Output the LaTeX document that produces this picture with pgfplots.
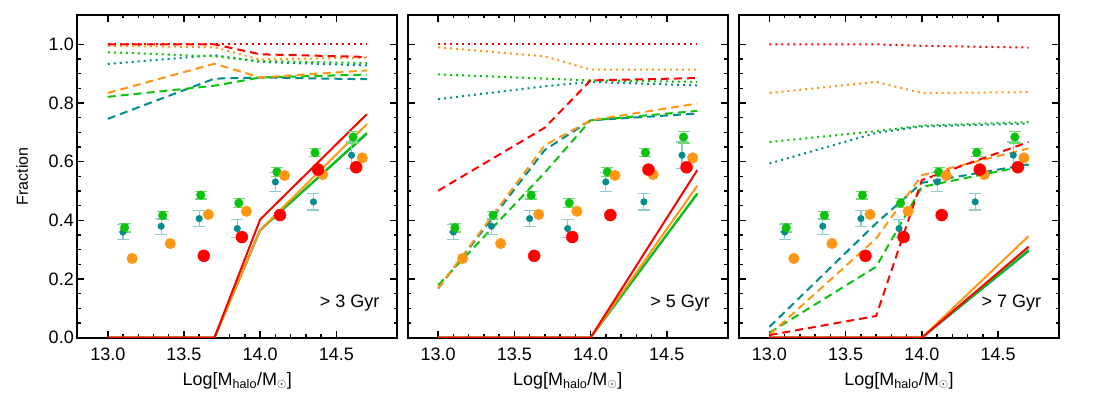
\documentclass[border=0pt]{standalone}
\usepackage{fontspec}
\setmainfont{Liberation Sans}
\usepackage{pgfplots}
\pgfplotsset{compat=1.18}
\usepackage{pgfplotstable}

\definecolor{cR}{RGB}{255,0,0}
\definecolor{cO}{RGB}{255,150,20}
\definecolor{cG}{RGB}{10,195,10}
\definecolor{cT}{RGB}{0,140,140}
\definecolor{cTe}{RGB}{140,205,205}
\definecolor{cGe}{RGB}{110,220,110}

% observed points (same in every panel)
\pgfplotstableread{
x     y     e
13.10 0.360 0.025
13.35 0.380 0.027
13.60 0.406 0.027
13.85 0.372 0.030
14.10 0.531 0.032
14.35 0.463 0.028
14.60 0.622 0.045
}\obsT
\pgfplotstableread{
x     y     e
13.11 0.375 0.015
13.36 0.417 0.014
13.61 0.486 0.013
13.86 0.459 0.015
14.11 0.565 0.015
14.36 0.631 0.014
14.61 0.684 0.020
}\obsG
\pgfplotstableread{
x     y
13.16 0.270
13.41 0.321
13.66 0.420
13.91 0.431
14.16 0.553
14.41 0.556
14.67 0.613
}\obsO
\pgfplotstableread{
x     y
13.63 0.279
13.88 0.343
14.13 0.418
14.38 0.573
14.63 0.581
}\obsR

% model lines: s = solid, d = dashed, o = dotted
\pgfplotstableread{
x    sR    sO    sG    sT    dR    dO    dG    dT    oR    oO    oG    oT
13.0 0.000 0.000 0.000 0.000 1.000 0.834 0.821 0.746 1.000 0.995 0.973 0.933
13.7 0.000 0.000 0.000 0.000 1.000 0.934 0.859 0.883 1.000 0.990 0.959 0.963
14.0 0.403 0.367 0.367 0.367 0.966 0.887 0.887 0.887 1.000 0.948 0.943 0.940
14.7 0.762 0.728 0.698 0.695 0.957 0.911 0.897 0.881 1.000 0.955 0.936 0.928
}\linesA
\pgfplotstableread{
x    sR    sO    sG    sT    dR    dO    dG    dT    oR    oO    oG    oT
13.0 0.000 0.000 0.000 0.000 0.501 0.168 0.179 0.168 1.000 0.990 0.898 0.813
13.7 0.000 0.000 0.000 0.000 0.716 0.656 0.563 0.640 1.000 0.959 0.883 0.857
14.0 0.000 0.000 0.000 0.000 0.877 0.741 0.741 0.741 1.000 0.914 0.877 0.872
14.7 0.571 0.518 0.492 0.490 0.885 0.798 0.773 0.764 1.000 0.914 0.872 0.860
}\linesB
\pgfplotstableread{
x    sR    sO    sG    sT    dR    dO    dG    dT    oR    oO    oG    oT
13.0 0.000 0.000 0.000 0.000 0.009 0.010 0.017 0.037 1.000 0.834 0.667 0.594
13.7 0.000 0.000 0.000 0.000 0.074 0.338 0.242 0.390 1.000 0.872 0.704 0.698
14.0 0.000 0.000 0.000 0.000 0.537 0.554 0.514 0.528 0.995 0.834 0.723 0.720
14.7 0.310 0.346 0.299 0.295 0.667 0.645 0.588 0.591 0.989 0.837 0.735 0.730
}\linesC

\pgfplotsset{
  panel/.style={
    scale only axis, width=320pt, height=322.7pt,
    xmin=12.8, xmax=14.9, ymin=0, ymax=1.1,
    xtick={13,13.5,14,14.5}, xticklabels={13.0,13.5,14.0,14.5},
    ytick={0,0.2,0.4,0.6,0.8,1.0},
    minor x tick num=4, minor y tick num=3,
    tick align=inside,
    major tick length=7pt, minor tick length=3.5pt,
    every tick/.style={black, line width=1.5pt},
    axis line style={line width=2pt},
    font=\fontsize{18}{21}\selectfont,
    /pgf/number format/assume math mode=true,
    xticklabel style={yshift=-7pt},
    xlabel={Log[M\textsubscript{halo}/M\textsubscript{$\odot$}]},
    xlabel style={at={(axis description cs:0.5,-0.133)}, anchor=center},
  },
  ls/.style={line width=2pt},
  ld/.style={line width=2pt, dash pattern=on 8pt off 5pt},
  lo/.style={line width=2pt, dash pattern=on 2pt off 4pt},
}

\newcommand\modellines[1]{%
  \addplot[cT, lo] table[x=x, y=oT] {#1};
  \addplot[cG, lo] table[x=x, y=oG] {#1};
  \addplot[cO, lo] table[x=x, y=oO] {#1};
  \addplot[cR, lo] table[x=x, y=oR] {#1};
  \addplot[cT, ld] table[x=x, y=dT] {#1};
  \addplot[cG, ld] table[x=x, y=dG] {#1};
  \addplot[cO, ld] table[x=x, y=dO] {#1};
  \addplot[cR, ld] table[x=x, y=dR] {#1};
  \addplot[cT, ls] table[x=x, y=sT] {#1};
  \addplot[cG, ls] table[x=x, y=sG] {#1};
  \addplot[cO, ls] table[x=x, y=sO] {#1};
  \addplot[cR, ls] table[x=x, y=sR] {#1};
}
\newcommand\observedpts{%
  \addplot[only marks, mark=*, mark size=3.3pt, cT,
    error bars/.cd, y dir=both, y explicit,
    error bar style={cTe, line width=1.2pt},
    error mark options={cTe, rotate=90, mark size=6pt, line width=1.2pt}]
    table[x=x, y=y, y error=e] {\obsT};
  \addplot[only marks, mark=*, mark size=4.3pt, cG,
    error bars/.cd, y dir=both, y explicit,
    error bar style={cGe, line width=1.2pt},
    error mark options={cGe, rotate=90, mark size=6pt, line width=1.2pt}]
    table[x=x, y=y, y error=e] {\obsG};
  \addplot[only marks, mark=*, mark size=5.3pt, cO] table[x=x, y=y] {\obsO};
  \addplot[only marks, mark=*, mark size=6pt, cR] table[x=x, y=y] {\obsR};
}

\begin{document}
\begin{tikzpicture}
\path[use as bounding box] (-77.3pt,-55.3pt) rectangle (1024.7pt,337.7pt);

\begin{axis}[panel, at={(0pt,0pt)},
  yticklabels={0.0,0.2,0.4,0.6,0.8,1.0},
  ylabel={Fraction},
  ylabel style={at={(axis description cs:-0.172,0.5)}, anchor=center,
    font=\fontsize{16}{18}\selectfont}]
  \modellines{\linesA}
  \observedpts
  \node[anchor=east] at (axis description cs:0.955,0.107) {> 3 Gyr};
\end{axis}

\begin{axis}[panel, at={(330.4pt,0pt)}, yticklabels={}]
  \modellines{\linesB}
  \observedpts
  \node[anchor=east] at (axis description cs:0.955,0.107) {> 5 Gyr};
\end{axis}

\begin{axis}[panel, at={(661.7pt,0pt)}, yticklabels={}]
  \modellines{\linesC}
  \observedpts
  \node[anchor=east] at (axis description cs:0.955,0.107) {> 7 Gyr};
\end{axis}
\end{tikzpicture}
\end{document}
